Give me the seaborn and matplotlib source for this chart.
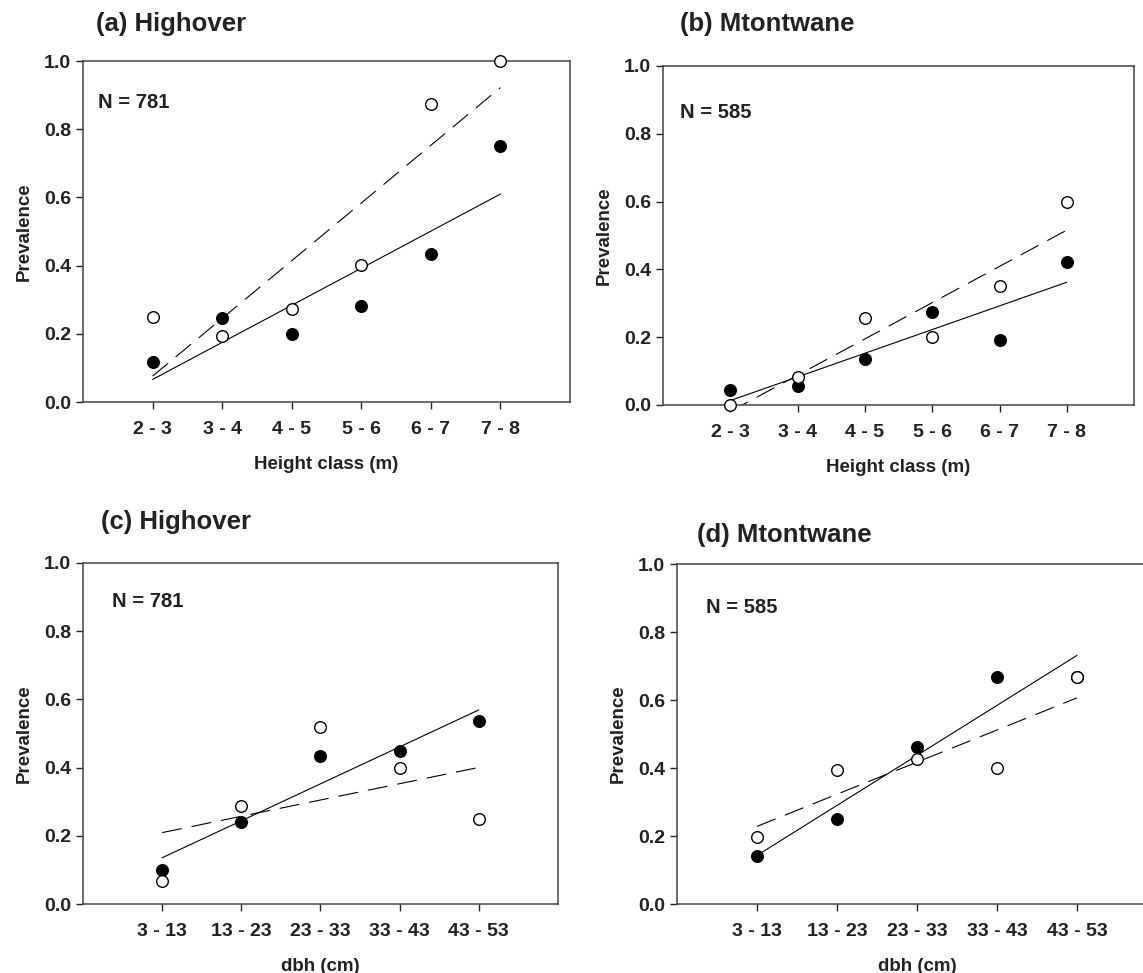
import numpy as np
import pandas as pd
import seaborn as sns
import matplotlib.pyplot as plt

height_classes = ["2 - 3", "3 - 4", "4 - 5", "5 - 6", "6 - 7", "7 - 8"]
dbh_classes = ["3 - 13", "13 - 23", "23 - 33", "33 - 43", "43 - 53"]

# filled circles / open circles
highover_height_filled = [0.118, 0.245, 0.200, 0.282, 0.433, 0.750]
highover_height_open = [0.250, 0.194, 0.273, 0.402, 0.875, 1.000]
mtontwane_height_filled = [0.043, 0.057, 0.135, 0.275, 0.193, 0.422]
mtontwane_height_open = [0.000, 0.083, 0.257, 0.200, 0.350, 0.600]
highover_dbh_filled = [0.100, 0.240, 0.435, 0.450, 0.537]
highover_dbh_open = [0.067, 0.288, 0.520, 0.400, 0.250]
mtontwane_dbh_filled = [0.140, 0.250, 0.462, 0.667, 0.667]
mtontwane_dbh_open = [0.197, 0.395, 0.428, 0.400, 0.667]

titles = ["(a) Highover", "(b) Mtontwane", "(c) Highover", "(d) Mtontwane"]
n_labels = ["N = 781", "N = 585", "N = 781", "N = 585"]
xlabels = ["Height class (m)", "Height class (m)", "dbh (cm)", "dbh (cm)"]

sns.set_style("ticks")
plt.rcParams["font.family"] = ["Liberation Sans", "DejaVu Sans"]
plt.rcParams["font.weight"] = "bold"
plt.rcParams["axes.labelweight"] = "bold"


def prevalence_panel(ax, classes, filled, opened, n_text, xlabel, n_pos):
    """Scatter of both series with their least-squares lines"""
    df = pd.DataFrame({"pos": np.arange(len(classes)), "filled": filled, "open": opened})
    sns.regplot(data=df, x="pos", y="filled", ax=ax, scatter=False, ci=None,
                color="black", line_kws=dict(lw=0.8, ls="-"))
    sns.regplot(data=df, x="pos", y="open", ax=ax, scatter=False, ci=None,
                color="black", line_kws=dict(lw=0.8, ls=(0, (18, 9))))
    sns.scatterplot(data=df, x="pos", y="filled", ax=ax, color="black",
                    edgecolor="black", s=70, linewidth=1, zorder=3, clip_on=False)
    sns.scatterplot(data=df, x="pos", y="open", ax=ax, color="white",
                    edgecolor="black", s=70, linewidth=1, zorder=4, clip_on=False)
    ax.set_xlim(-1, len(classes))
    ax.set_ylim(0, 1)
    ax.set_xticks(np.arange(len(classes)))
    ax.set_xticklabels(classes)
    ax.set_yticks([0, 0.2, 0.4, 0.6, 0.8, 1.0])
    ax.set_yticklabels(["0.0", "0.2", "0.4", "0.6", "0.8", "1.0"])
    ax.tick_params(direction="out", length=5, width=1, labelsize=14,
                   colors="#222222", labelcolor="#222222")
    ax.tick_params(axis="x", pad=8.5)
    ax.tick_params(axis="y", pad=3.5)
    for sp in ax.spines.values():
        sp.set_color("#444444")
        sp.set_linewidth(1.1)
    ax.set_xlabel(xlabel, fontsize=13.5, labelpad=13, color="#222222")
    ax.set_ylabel("Prevalence", fontsize=13.5, labelpad=8, color="#222222")
    ax.text(n_pos[0], n_pos[1], n_text, transform=ax.transAxes, fontsize=14.5,
            ha="left", va="center", color="#222222")


fig = plt.figure(figsize=(11.43, 9.73), dpi=100)
axes = [
    fig.add_axes([0.0726, 0.5868, 0.4261, 0.3505]),
    fig.add_axes([0.5801, 0.5838, 0.4121, 0.3484]),
    fig.add_axes([0.0726, 0.0709, 0.4156, 0.3505]),
    fig.add_axes([0.5923, 0.0709, 0.4200, 0.3494]),
]
panels = [
    (height_classes, highover_height_filled, highover_height_open, (0.031, 0.877)),
    (height_classes, mtontwane_height_filled, mtontwane_height_open, (0.036, 0.864)),
    (dbh_classes, highover_dbh_filled, highover_dbh_open, (0.061, 0.886)),
    (dbh_classes, mtontwane_dbh_filled, mtontwane_dbh_open, (0.060, 0.871)),
]
for i, ax in enumerate(axes):
    classes, filled, opened, n_pos = panels[i]
    prevalence_panel(ax, classes, filled, opened, n_labels[i], xlabels[i], n_pos)

title_pos = [(0.084, 0.975), (0.595, 0.975), (0.088, 0.4635), (0.610, 0.450)]
for t, (x, y) in zip(titles, title_pos):
    fig.text(x, y, t, fontsize=18.5, ha="left", va="center", color="#222222")

fig.savefig("out.png", dpi=100)
